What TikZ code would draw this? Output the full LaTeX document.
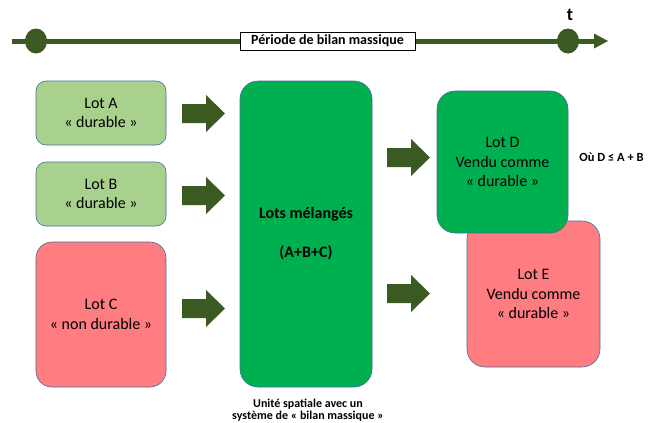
\documentclass[tikz,border=0pt]{standalone}
\usepackage{fontspec}
\setmainfont{Carlito}
\definecolor{darkg}{HTML}{3A5A22}
\definecolor{lightg}{HTML}{A9D18E}
\definecolor{midg}{HTML}{00B050}
\definecolor{salmon}{HTML}{FF7C80}
\definecolor{edge}{HTML}{41719C}
\newcommand{\blockarrow}[2]{%
  \fill[darkg] (#1,#2) ++(0,-9.5) -- ++(24,0) -- ++(0,-9) -- ++(19,18.5) -- ++(-19,18.5) -- ++(0,-9) -- ++(-24,0) -- cycle;}
\tikzset{
  lot/.style={draw=edge, line width=0.6pt, align=center, font=\fontsize{16}{19.5}\selectfont, inner sep=0pt},
  small/.style={font=\bfseries\fontsize{12}{12.5}\selectfont, align=center, inner sep=0pt}
}
\begin{document}
\begin{tikzpicture}[x=1pt,y=-1pt]
\useasboundingbox[fill=white] (0,0) rectangle (648,423);
% timeline
\draw[darkg, line width=5pt] (12,41) -- (597,41);
\fill[darkg] (594,33.5) -- (608,41) -- (594,48.5) -- cycle;
\fill[darkg] (36,41) ellipse [x radius=11, y radius=12.5];
\fill[darkg] (568,41) ellipse [x radius=11, y radius=12.5];
\node[draw=black, line width=0.6pt, fill=white, minimum width=175, minimum height=18, small, font=\bfseries\fontsize{14}{15}\selectfont] (per) at (327.5,41) {Période de bilan massique};
\node[font=\bfseries\fontsize{18}{18}\selectfont, inner sep=0pt] (t) at (570,15) {t};
% left lots
\node[lot, fill=lightg, minimum width=130, minimum height=64, rounded corners=10] (A) at (101,113) {Lot A\\« durable »};
\node[lot, fill=lightg, minimum width=130, minimum height=64, rounded corners=10] (B) at (101,194) {Lot B\\« durable »};
\node[lot, fill=salmon, minimum width=130, minimum height=145, rounded corners=16] (C) at (101,314.5) {Lot C\\« non durable »};
% middle
\node[lot, fill=midg, minimum width=132, minimum height=306, rounded corners=18, font=\bfseries\fontsize{16}{19.5}\selectfont] (M) at (306,234) {Lots mélangés\\[19.5pt](A+B+C)};
% right lots
\node[lot, fill=salmon, minimum width=133, minimum height=146, rounded corners=18] (E) at (533.5,294) {Lot E\\Vendu comme\\« durable »};
\node[lot, fill=midg, minimum width=131, minimum height=142, rounded corners=18] (D) at (502.5,162) {Lot D\\Vendu comme\\« durable »};
\node[small, font=\bfseries\fontsize{12.5}{14}\selectfont] (eq) at (611.5,157) {Où D ≤ A + B};
\node[small] (cap) at (308,410) {Unité spatiale avec un\\système de « bilan massique »};
% arrows
\blockarrow{182}{113.5}
\blockarrow{182}{195.5}
\blockarrow{182}{308.5}
\blockarrow{387}{157.5}
\blockarrow{387}{293.5}
\end{tikzpicture}
\end{document}
